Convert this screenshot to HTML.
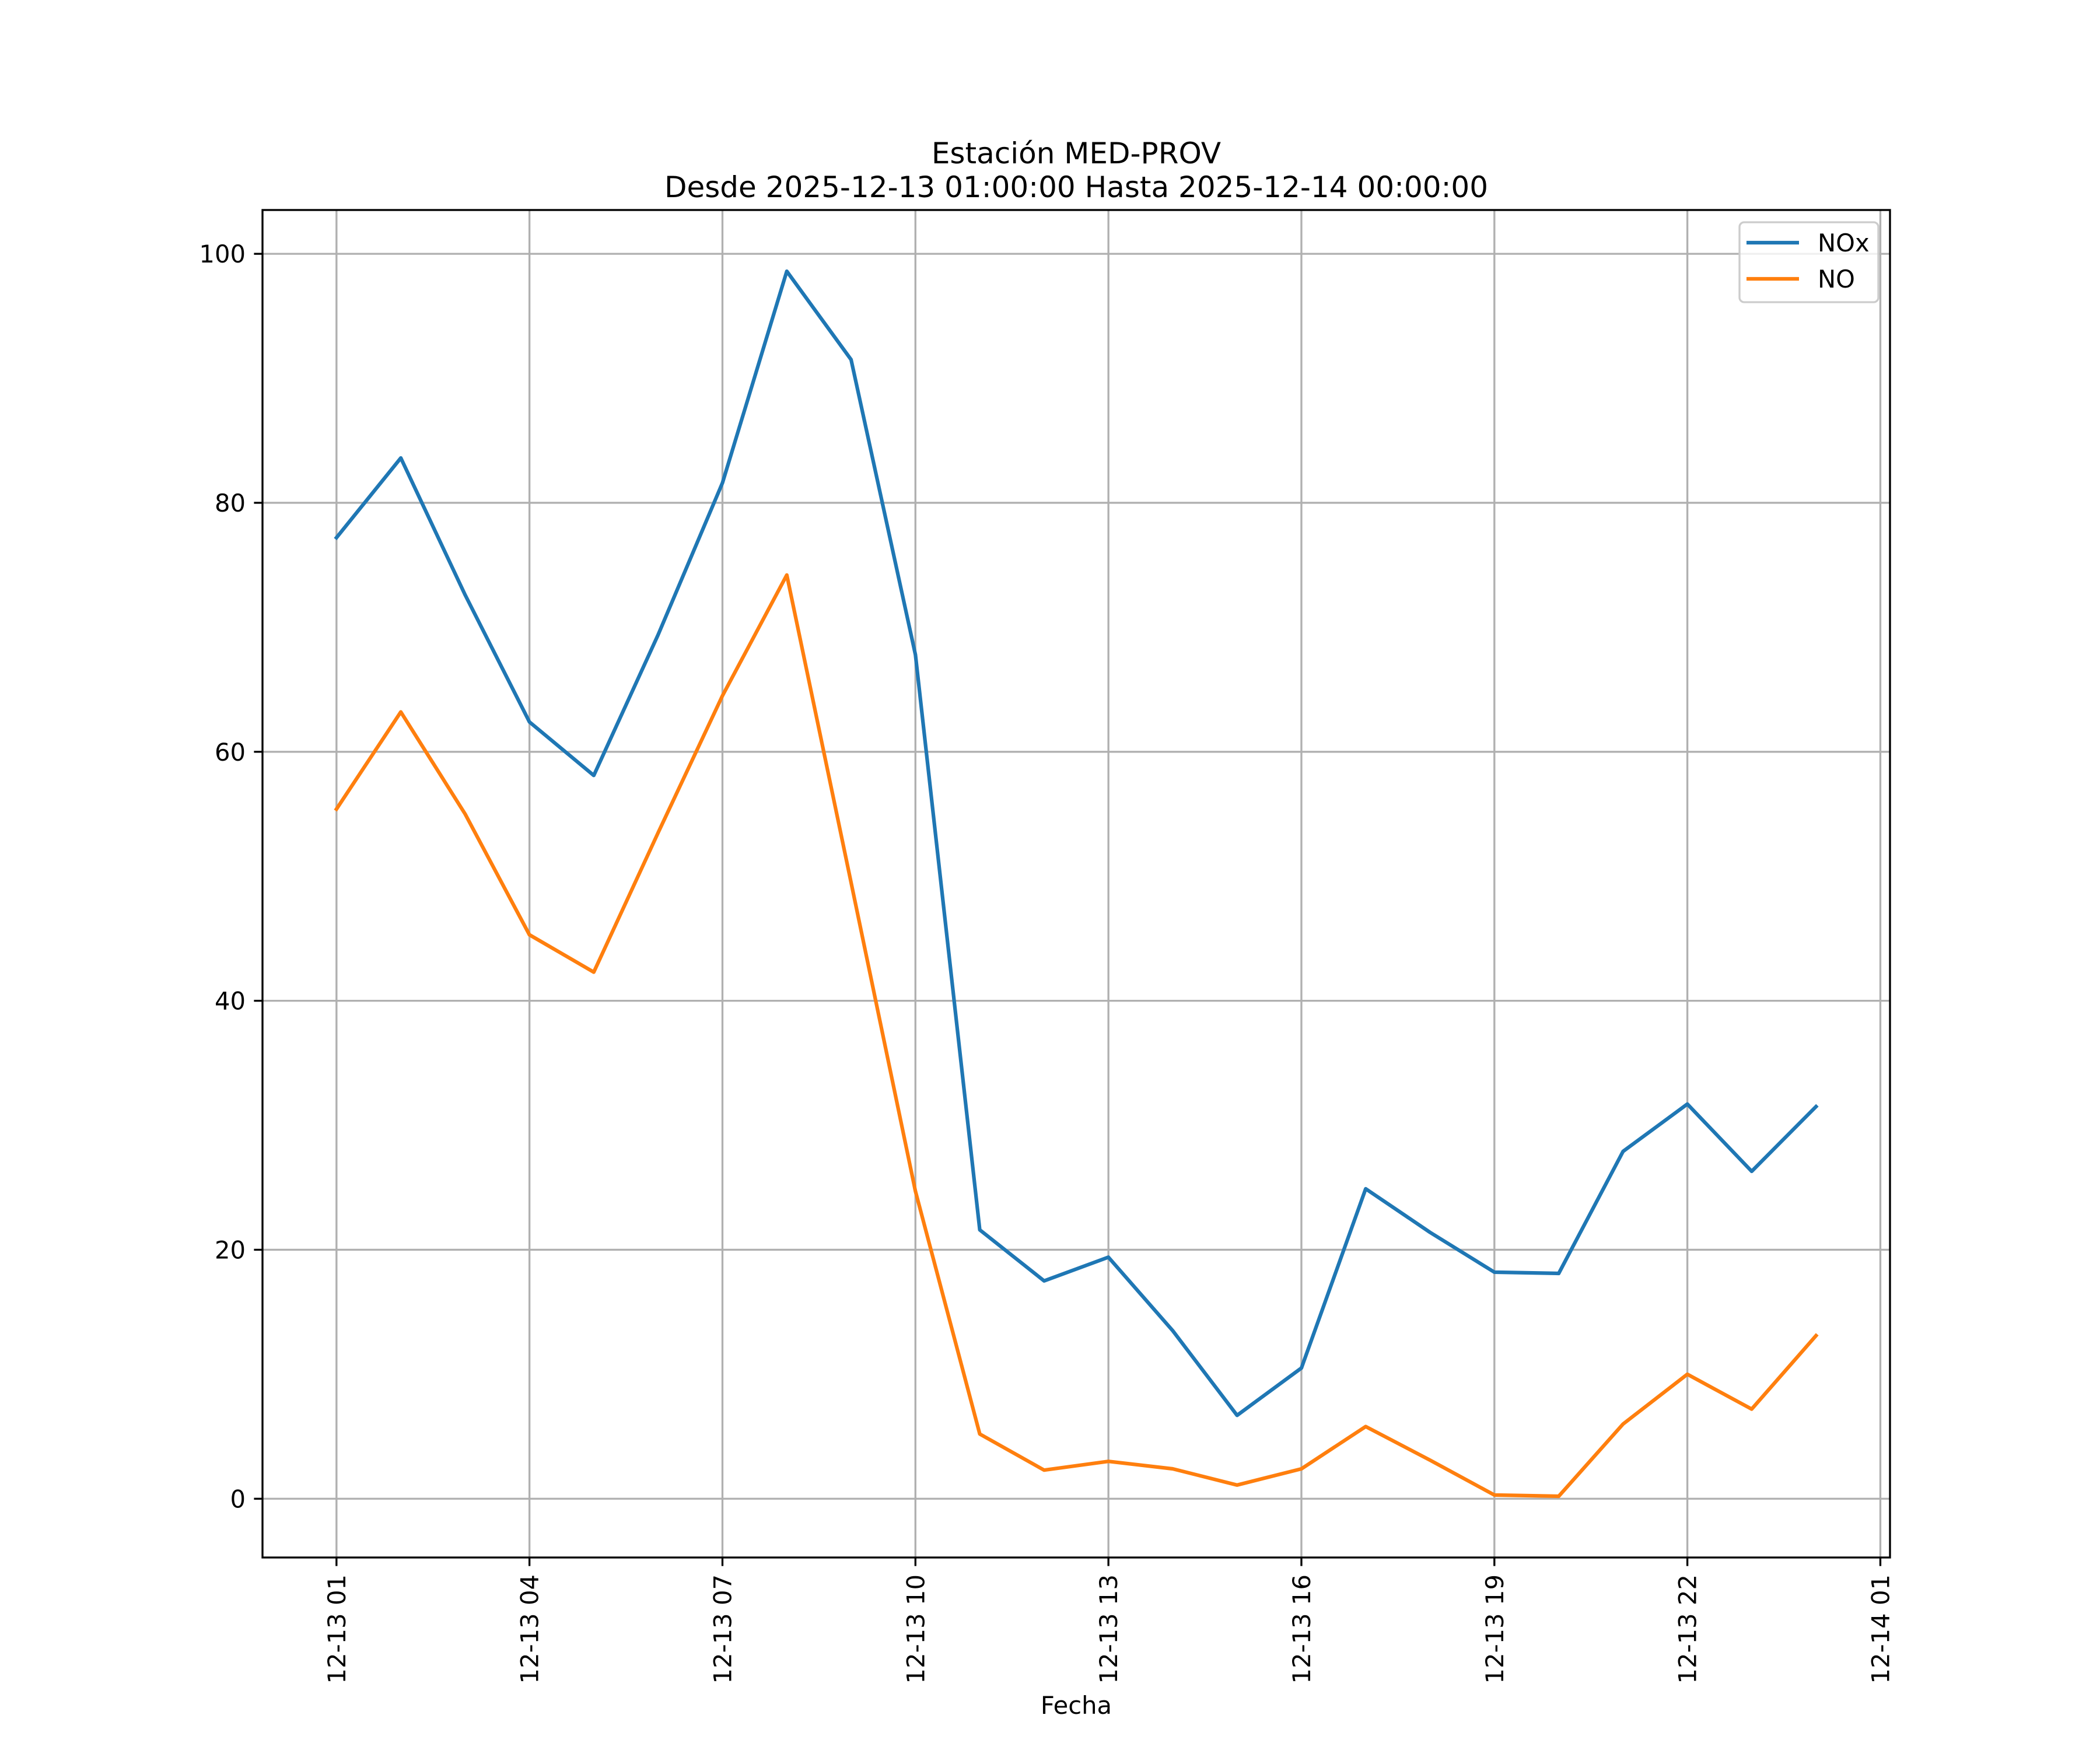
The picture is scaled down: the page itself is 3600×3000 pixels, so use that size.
<!DOCTYPE html>
<html><head><meta charset="utf-8"><style>
html,body{margin:0;padding:0;background:#fff;}
svg{display:block;font-family:"DejaVu Sans","Liberation Sans",sans-serif;}
</style></head><body>
<svg id="chart" width="3600" height="3000" viewBox="0 0 3600 3000" xmlns="http://www.w3.org/2000/svg">
<rect width="3600" height="3000" fill="#fff"/>
<g id="grid"></g>
<g id="series"></g>
<rect x="450" y="360" width="2790" height="2310" fill="none" stroke="#000" stroke-width="3.33"/>
<g id="ticks"></g>
<text x="1845" y="280" font-size="50" text-anchor="middle">Estación MED-PROV</text>
<text x="1845" y="338" font-size="50" text-anchor="middle">Desde 2025-12-13 01:00:00 Hasta 2025-12-14 00:00:00</text>
<text x="1845" y="2938" font-size="41.7" text-anchor="middle">Fecha</text>
<g>
<rect x="2982" y="381" width="238" height="137" rx="8" fill="#fff" fill-opacity="0.8" stroke="#ccc" stroke-width="3.33"/>
<line x1="2994" y1="416" x2="3084" y2="416" stroke="#1f77b4" stroke-width="6.25"/>
<text x="3116" y="431" font-size="41.7">NOx</text>
<line x1="2994" y1="478" x2="3084" y2="478" stroke="#ff7f0e" stroke-width="6.25"/>
<text x="3116" y="493" font-size="41.7">NO</text>
</g>
</svg>
<script>
const hours = [0,1,2,3,4,5,6,7,8,9,10,11,12,13,14,15,16,17,18,19,20,21,22,23];
const noxValues = [77.2,83.6,72.6,62.4,58.1,69.4,81.6,98.6,91.5,67.8,21.6,17.5,19.4,13.5,6.7,10.5,24.9,21.4,18.2,18.1,27.9,31.7,26.3,31.5];
const noValues = [55.4,63.2,55.0,45.3,42.3,53.5,64.5,74.2,49.5,24.7,5.2,2.3,3.0,2.4,1.1,2.4,5.8,3.1,0.3,0.2,6.0,10.0,7.2,13.1];
const xTickHours = [0,3,6,9,12,15,18,21,24];
const xTickLabels = ["12-13 01","12-13 04","12-13 07","12-13 10","12-13 13","12-13 16","12-13 19","12-13 22","12-14 01"];
const yTicks = [0,20,40,60,80,100];

const NS = "http://www.w3.org/2000/svg";
const L=450,R=3240,T=360,B=2670;
const allV = noxValues.concat(noValues);
const vmin=Math.min(...allV), vmax=Math.max(...allV), vr=vmax-vmin;
const y0=vmin-0.05*vr, y1=vmax+0.05*vr;
const hmax=hours[hours.length-1], x0=-0.05*hmax, x1=hmax*1.05;
const xs=h=>L+(h-x0)/(x1-x0)*(R-L);
const ys=v=>B-(v-y0)/(y1-y0)*(B-T);
function mk(tag,attrs,parent){const e=document.createElementNS(NS,tag);for(const k in attrs)e.setAttribute(k,attrs[k]);parent.appendChild(e);return e;}
const grid=document.getElementById('grid'), ticks=document.getElementById('ticks'), series=document.getElementById('series');
xTickHours.forEach((h,i)=>{
  const x=xs(h);
  const g=mk('line',{x1:x,y1:T,x2:x,y2:B,stroke:'#b0b0b0','stroke-width':3.33},grid);
  
  
  const t=mk('line',{x1:x,y1:B,x2:x,y2:B+14.6,stroke:'#000','stroke-width':3.33},ticks);
  
  
  const lb=mk('text',{x:0,y:0,'font-size':41.7,'text-anchor':'end',transform:`translate(${x+15},${B+29}) rotate(-90)`},ticks);
  lb.textContent=xTickLabels[i];
  
  
});
yTicks.forEach(v=>{
  const y=ys(v);
  const g=mk('line',{x1:L,y1:y,x2:R,y2:y,stroke:'#b0b0b0','stroke-width':3.33},grid);
  
  
  const t=mk('line',{x1:L-14.6,y1:y,x2:L,y2:y,stroke:'#000','stroke-width':3.33},ticks);
  
  
  const lb=mk('text',{x:L-29,y:y+15,'font-size':41.7,'text-anchor':'end'},ticks);
  lb.textContent=String(v);
  
  
});
function drawLine(vals,color,name){
  const pts=vals.map((v,i)=>xs(hours[i]).toFixed(1)+','+ys(v).toFixed(1)).join(' ');
  const p=mk('polyline',{points:pts,fill:'none',stroke:color,'stroke-width':6.25,'stroke-linejoin':'round','stroke-linecap':'square'},series);
  
  
}
drawLine(noxValues,'#1f77b4','nox-line');
drawLine(noValues,'#ff7f0e','no-line');
</script>
</body></html>
